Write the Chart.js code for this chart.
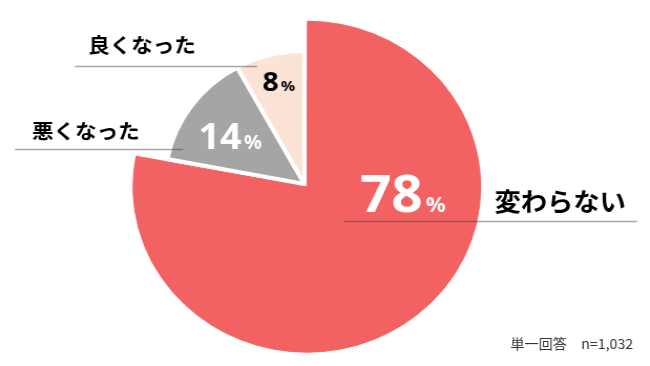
<!DOCTYPE html>
<html><head><meta charset="utf-8">
<script src="https://cdn.jsdelivr.net/npm/chart.js@4/dist/chart.umd.min.js"></script>
<style>
html,body{margin:0;padding:0;background:#fff;overflow:hidden;}
#wrap{width:619px;height:366px;transform:scaleX(1.05);transform-origin:0 0;}
</style></head><body>
<div id="wrap"><canvas id="c" width="619" height="366"></canvas></div>
<script>
// ---- data ----
const categories = ['変わらない', '悪くなった', '良くなった'];
const values = [78, 14, 8];
const colors = ['#F26262', '#A5A5A5', '#FBE3D5'];
const valueLabels = ['78', '14', '8'];
const note = '単一回答　n=1,032';

// ---- annotation layout (label text positions, leader lines) ----
const pctLayout = [
  {x: 343, y: 212, big: 52, small: 21, gap: 3, color: '#FFFFFF'},
  {x: 189, y: 149, big: 36, small: 19, gap: 2, color: '#FFFFFF'},
  {x: 250, y: 91,  big: 27, small: 15, gap: 2, color: '#000000'}
];
const catLayout = [
  {x: 471, y: 201, size: 25},
  {x: 30.5, y: 131, size: 20.5},
  {x: 84, y: 45, size: 20.5}
];
const leaders = [
  {x1: 327.6, x2: 606.7, y: 221},
  {x1: 14.3, x2: 174.3, y: 149},
  {x1: 71.4, x2: 244.8, y: 66}
];

const annot = {
  id: 'annot',
  afterDraw(chart) {
    const ctx = chart.ctx;
    ctx.save();
    ctx.strokeStyle = 'rgba(60,60,60,0.45)';
    ctx.lineWidth = 1.3;
    leaders.forEach(l => {
      ctx.beginPath();
      ctx.moveTo(l.x1, l.y + 0.5);
      ctx.lineTo(l.x2, l.y + 0.5);
      ctx.stroke();
    });
    // percentage labels
    ctx.textBaseline = 'alphabetic';
    ctx.textAlign = 'left';
    valueLabels.forEach((v, i) => {
      const p = pctLayout[i];
      ctx.fillStyle = p.color;
      ctx.font = 'bold ' + p.big + 'px "Noto Sans", sans-serif';
      ctx.fillText(v, p.x, p.y);
      const w = ctx.measureText(v).width;
      ctx.font = 'bold ' + p.small + 'px "Noto Sans", sans-serif';
      ctx.fillText('%', p.x + w + p.gap, p.y);
    });
    // category labels
    ctx.fillStyle = '#000000';
    ctx.textBaseline = 'middle';
    categories.forEach((c, i) => {
      const p = catLayout[i];
      ctx.font = 'bold ' + p.size + 'px "Noto Sans CJK JP", sans-serif';
      ctx.fillText(c, p.x, p.y);
    });
    // note
    ctx.fillStyle = '#333333';
    ctx.font = '13.5px "Noto Sans CJK JP", sans-serif';
    ctx.textAlign = 'right';
    ctx.fillText(note, 603, 344);
    ctx.restore();
  }
};

new Chart(document.getElementById('c'), {
  type: 'pie',
  data: {
    labels: categories,
    datasets: [
      {
        data: values,
        weight: 29,
        backgroundColor: [colors[0], 'rgba(0,0,0,0)', 'rgba(0,0,0,0)'],
        borderColor: [colors[0], 'rgba(0,0,0,0)', 'rgba(0,0,0,0)'],
        borderWidth: [1, 0, 0],
        offset: [14, 0, 0]
      },
      {
        data: values,
        weight: 133,
        backgroundColor: colors,
        borderColor: [colors[0], '#FFFFFF', '#FFFFFF'],
        borderWidth: [1, 4, 4],
        offset: [14, 0, 0]
      }
    ]
  },
  options: {
    responsive: false,
    devicePixelRatio: 1,
    animation: false,
    radius: 162,
    layout: {padding: {left: 0, right: 39, top: 2, bottom: 0}},
    plugins: {legend: {display: false}, tooltip: {enabled: false}}
  },
  plugins: [annot]
});
</script>
</body></html>
